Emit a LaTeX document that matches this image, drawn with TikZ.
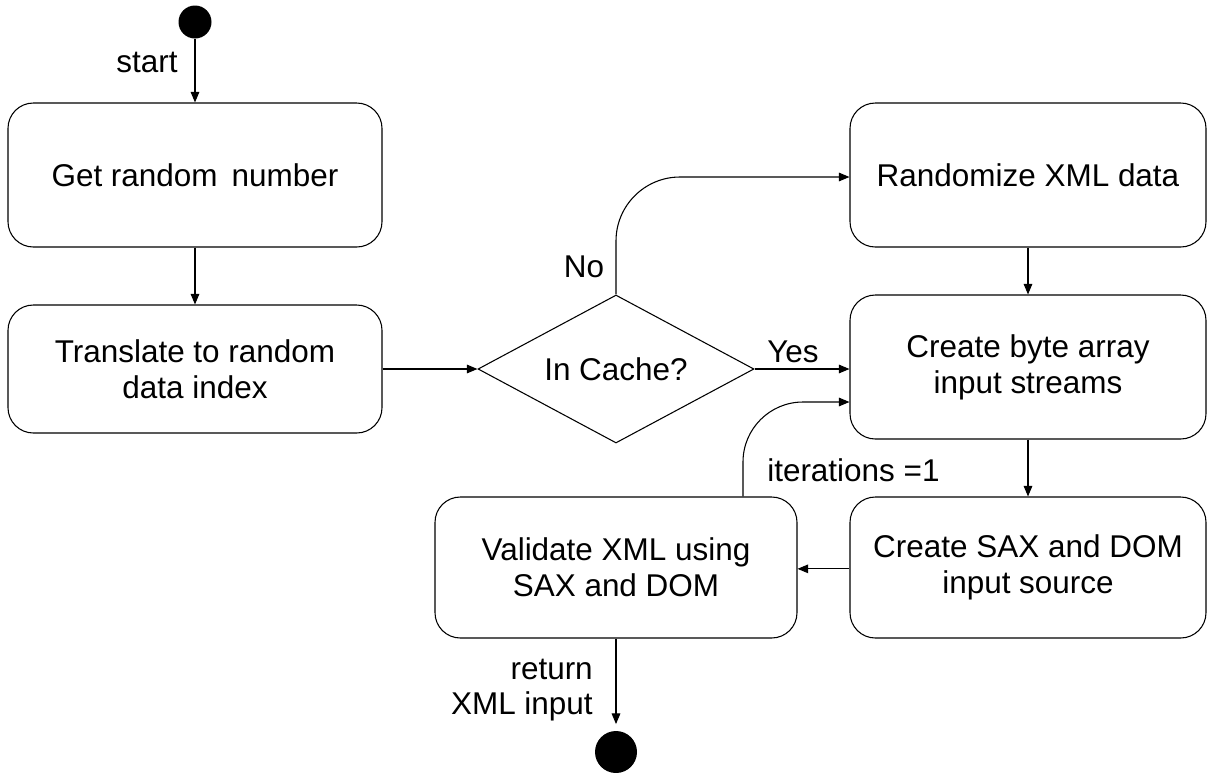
\documentclass[tikz,border=0pt]{standalone}
\usepackage{fontspec}
\setmainfont{Liberation Sans}
\usetikzlibrary{arrows.meta,shapes.geometric}
\begin{document}
\begin{tikzpicture}[x=0.75pt,y=-0.75pt,
  every node/.style={font=\fontsize{23.6}{26.8}\selectfont},
  actbox/.style={draw,line width=0.8pt,rounded corners=19pt,align=center,inner sep=0pt},
  decision/.style={draw,line width=0.8pt,diamond,aspect=1.865,inner sep=0pt,minimum width=207pt,minimum height=111pt},
  dot/.style={circle,fill=black,inner sep=0pt,minimum size=#1},
  arr/.style={line width=0.8pt,-{Triangle[length=8pt,width=6.5pt]}},
  lbl/.style={inner sep=0pt}
]
\useasboundingbox (0,0) rectangle (1207,772);

\node[dot=24.75pt] (s) at (195,22) {};
\node[actbox,minimum width=280.5pt,minimum height=108pt] (b1) at (195,175) {Get random\hspace{4pt} number};
\node[actbox,minimum width=280.5pt,minimum height=96pt] (b2) at (195,369) {Translate to random\\data index};
\node[decision] (d) at (616,369) {In Cache?};
\node[actbox,minimum width=267pt,minimum height=108pt] (b3) at (1028,175) {Randomize XML data};
\node[actbox,minimum width=267pt,minimum height=108pt] (b4) at (1028,367) {Create byte array\\input streams};
\node[actbox,minimum width=267pt,minimum height=105.75pt] (b5) at (1028,567.5) {Create SAX and DOM\\input source};
\node[actbox,minimum width=271.5pt,minimum height=105.75pt] (b6) at (616,567.5) {Validate XML using\\SAX and DOM};
\node[dot=31.5pt] (e) at (616,752) {};

\node[lbl] (lstart) at (147,62) {start};
\node[lbl] (lno) at (584,267) {No};
\node[lbl] (lyes) at (793,352) {Yes};
\node[lbl,anchor=west] (lit) at (767,470) {iterations =1};
\node[lbl,anchor=east,align=right] (lret) at (593,690) {return\\XML input};

\draw[arr] (s) -- (b1);
\draw[arr] (b1) -- (b2);
\draw[arr] (b2) -- (d);
\draw[arr] (d.east) -- (d.east -| b4.west);
\draw[arr,rounded corners=48pt] (d.north) |- ([yshift=-1.5pt]b3.west);
\draw[arr] (b3) -- (b4);
\draw[arr] (b4) -- (b5);
\draw[arr] ([yshift=-1pt]b5.west) -- ([yshift=-1pt]b6.east);
\draw[arr,rounded corners=45pt] ([xshift=95.25pt]b6.north) |- ([yshift=-26.25pt]b4.west);
\draw[arr,shorten >=5pt] (b6.south) -- (e.north);
\end{tikzpicture}
\end{document}
